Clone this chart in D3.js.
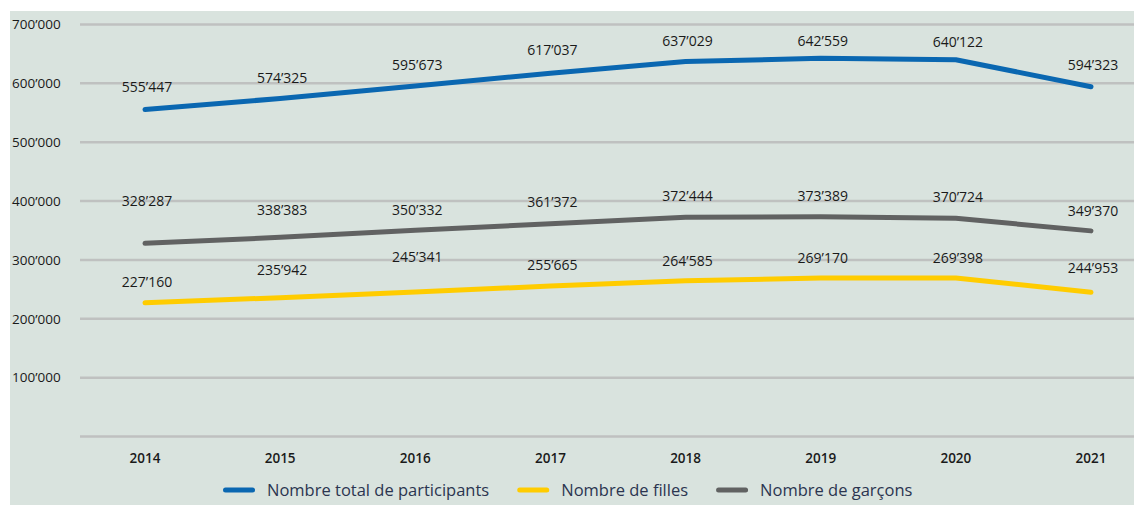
<!DOCTYPE html>
<html>
<head>
<meta charset="utf-8">
<script src="https://cdn.jsdelivr.net/npm/d3@7"></script>
<style>
  body { margin: 0; background: #fff; }
  svg { display: block; }
</style>
</head>
<body>
<div id="chart"></div>
<script>
const years = [2014, 2015, 2016, 2017, 2018, 2019, 2020, 2021]
const yTicks = [100000, 200000, 300000, 400000, 500000, 600000, 700000]

const totalValues = [555447, 574325, 595673, 617037, 637029, 642559, 640122, 594323]
const fillesValues = [227160, 235942, 245341, 255665, 264585, 269170, 269398, 244953]
const garconsValues = [328287, 338383, 350332, 361372, 372444, 373389, 370724, 349370]

const seriesNames = ['Nombre total de participants', 'Nombre de filles', 'Nombre de garçons']

// how far each value label sits above its point (px)
const labelLift = {
  total: [22, 20, 21, 23, 20, 17, 18, 22],
  filles: [21, 28, 35, 21, 20, 20, 20, 24],
  garcons: [42, 27, 20, 22, 21, 21, 21, 20]
}

const width = 1134
const height = 505
const margin = { left: 80, right: 0, top: 24.5, bottom: 68.5 }

const series = [
  { key: 'total', name: seriesNames[0], values: totalValues, color: '#0a67b1' },
  { key: 'filles', name: seriesNames[1], values: fillesValues, color: '#ffcc00' },
  { key: 'garcons', name: seriesNames[2], values: garconsValues, color: '#616262' }
]

const fmt = v => d3.format(',')(v).replace(/,/g, '\u2019')

const svg = d3.select('#chart')
  .append('svg')
  .attr('width', width)
  .attr('height', height)
  .style('font-family', '"Open Sans", "Noto Sans", sans-serif')

svg.append('rect')
  .attr('x', 10)
  .attr('y', 11)
  .attr('width', width - 10)
  .attr('height', height - 11)
  .attr('fill', '#d9e3de')

const x = d3.scalePoint()
  .domain(years)
  .range([145, 1091])

const y = d3.scaleLinear()
  .domain([0, 700000])
  .range([height - margin.bottom, margin.top])

// grid
svg.append('g')
  .attr('class', 'grid')
  .selectAll('line')
  .data([0, ...yTicks])
  .join('line')
  .attr('x1', margin.left)
  .attr('x2', width - margin.right)
  .attr('y1', d => y(d))
  .attr('y2', d => y(d))
  .attr('stroke', '#bfc1c0')
  .attr('stroke-width', 2.5)

// y labels
svg.append('g')
  .attr('class', 'y-axis')
  .selectAll('text')
  .data(yTicks)
  .join('text')
  .attr('x', 12)
  .attr('y', d => y(d))
  .attr('dy', '0.35em')
  .attr('font-size', 13.5)
  .attr('font-weight', 500)
  .attr('fill', '#1a1a1a')
  .text(fmt)

// x labels
svg.append('g')
  .attr('class', 'x-axis')
  .selectAll('text')
  .data(years)
  .join('text')
  .attr('x', d => x(d))
  .attr('y', 458)
  .attr('dy', '0.35em')
  .attr('text-anchor', 'middle')
  .attr('font-size', 13.5)
  .attr('font-weight', 600)
  .attr('fill', '#1a1a1a')
  .text(d => d)

const line = d3.line()
  .x((d, i) => x(years[i]))
  .y(d => y(d))

svg.append('g')
  .attr('class', 'lines')
  .selectAll('path')
  .data(series)
  .join('path')
  .attr('d', d => line(d.values))
  .attr('fill', 'none')
  .attr('stroke', d => d.color)
  .attr('stroke-width', 5)
  .attr('stroke-linecap', 'round')
  .attr('stroke-linejoin', 'round')

const labels = svg.append('g').attr('class', 'labels')

series.forEach(s => {
  labels.append('g')
    .selectAll('text')
    .data(s.values)
    .join('text')
    .attr('x', (d, i) => x(years[i]) + 2)
    .attr('y', (d, i) => y(d) - labelLift[s.key][i])
    .attr('dy', '0.35em')
    .attr('text-anchor', 'middle')
    .attr('font-size', 14)
    .attr('font-weight', 500)
    .attr('fill', '#1a1a1a')
    .text(fmt)
})

// legend: swatch, gap, text, gap — laid out from the left
const legend = svg.append('g')
  .attr('class', 'legend')
  .attr('transform', 'translate(223, 490)')

let cursor = 0
series.forEach(s => {
  const g = legend.append('g').attr('transform', `translate(${cursor}, 0)`)

  g.append('line')
    .attr('x1', 2.5)
    .attr('x2', 29.5)
    .attr('stroke', s.color)
    .attr('stroke-width', 5)
    .attr('stroke-linecap', 'round')

  const t = g.append('text')
    .attr('x', 44)
    .attr('dy', '0.35em')
    .attr('font-size', 16.5)
    .attr('fill', '#2b3550')
    .text(s.name)

  cursor += 44 + t.node().getComputedTextLength() + 28
})
</script>
</body>
</html>
